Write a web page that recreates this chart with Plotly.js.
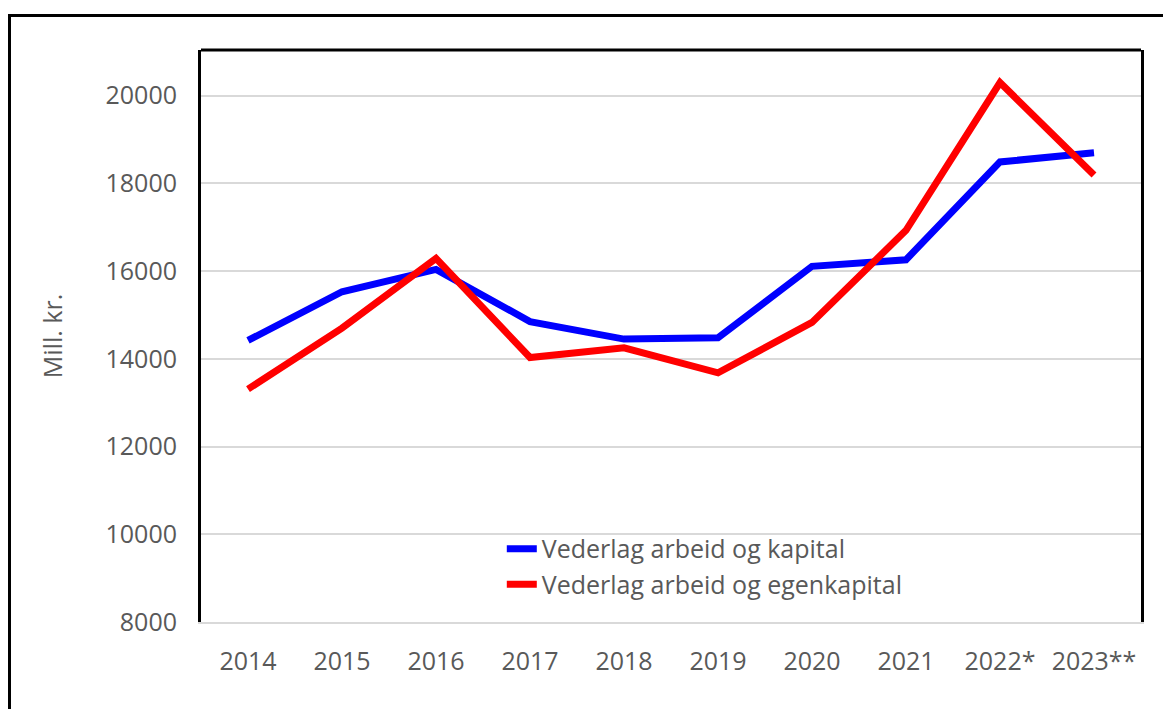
<!DOCTYPE html>
<html>
<head>
<meta charset="utf-8">
<script src="https://cdn.plot.ly/plotly-3.0.1.min.js"></script>
<style>
html,body{margin:0;padding:0;background:#fff;}
#wrap{position:relative;width:1163px;height:709px;overflow:hidden;}
#frame{position:absolute;left:8px;top:14px;width:1200px;height:800px;border:3px solid #000;pointer-events:none;}
#chart{position:absolute;left:0;top:0;width:1163px;height:709px;}
</style>
</head>
<body>
<div id="wrap">
<div id="frame"></div>
<div id="chart"></div>
</div>
<script>
const years = ["2014","2015","2016","2017","2018","2019","2020","2021","2022*","2023**"];
const kapital = [14420, 15530, 16040, 14850, 14450, 14480, 16110, 16260, 18490, 18700];
const egenkapital = [13310, 14700, 16290, 14030, 14250, 13680, 14830, 16930, 20300, 18190];
const seriesNames = ["Vederlag arbeid og kapital", "Vederlag arbeid og egenkapital"];
const yTicks = [8000, 10000, 12000, 14000, 16000, 18000, 20000];

const fontFam = "'Open Sans', 'Liberation Sans', sans-serif";
const grey = "#595959";

const traces = [
  {x: years, y: kapital, name: seriesNames[0], type: "scatter", mode: "lines",
   line: {color: "#0000ff", width: 7}},
  {x: years, y: egenkapital, name: seriesNames[1], type: "scatter", mode: "lines",
   line: {color: "#ff0000", width: 7}}
];

const layout = {
  width: 1163, height: 709,
  margin: {l: 201, r: 22, t: 50, b: 87},
  paper_bgcolor: "rgba(0,0,0,0)",
  plot_bgcolor: "#fff",
  font: {family: fontFam, color: grey, size: 24},
  showlegend: true,
  legend: {x: 0.32, y: 0.168, xanchor: "left", yanchor: "top",
           bgcolor: "rgba(0,0,0,0)", font: {size: 25, color: grey},
           tracegroupgap: 0},
  xaxis: {type: "category", range: [-0.5, 9.5], showgrid: false,
          showline: true, linecolor: "#d9d9d9", linewidth: 2,
          ticks: "", ticklabelstandoff: 16, tickfont: {size: 25, color: grey}},
  yaxis: {range: [8000, 21042], tickvals: yTicks, tickformat: "d", showgrid: true, gridcolor: "#d9d9d9", gridwidth: 2,
          zeroline: false, showline: true, mirror: true, linecolor: "#000", linewidth: 3,
          ticks: "", ticklabelstandoff: 16, tickfont: {size: 25, color: grey},
          title: {text: "Mill. kr.", font: {size: 25, color: grey}, standoff: 36}},
  shapes: [
    {type: "line", xref: "paper", yref: "paper", x0: 0, x1: 1, y0: 1, y1: 1,
     line: {color: "#000", width: 3}}
  ]
};

Plotly.newPlot("chart", traces, layout, {displayModeBar: false, staticPlot: true});
</script>
</body>
</html>
